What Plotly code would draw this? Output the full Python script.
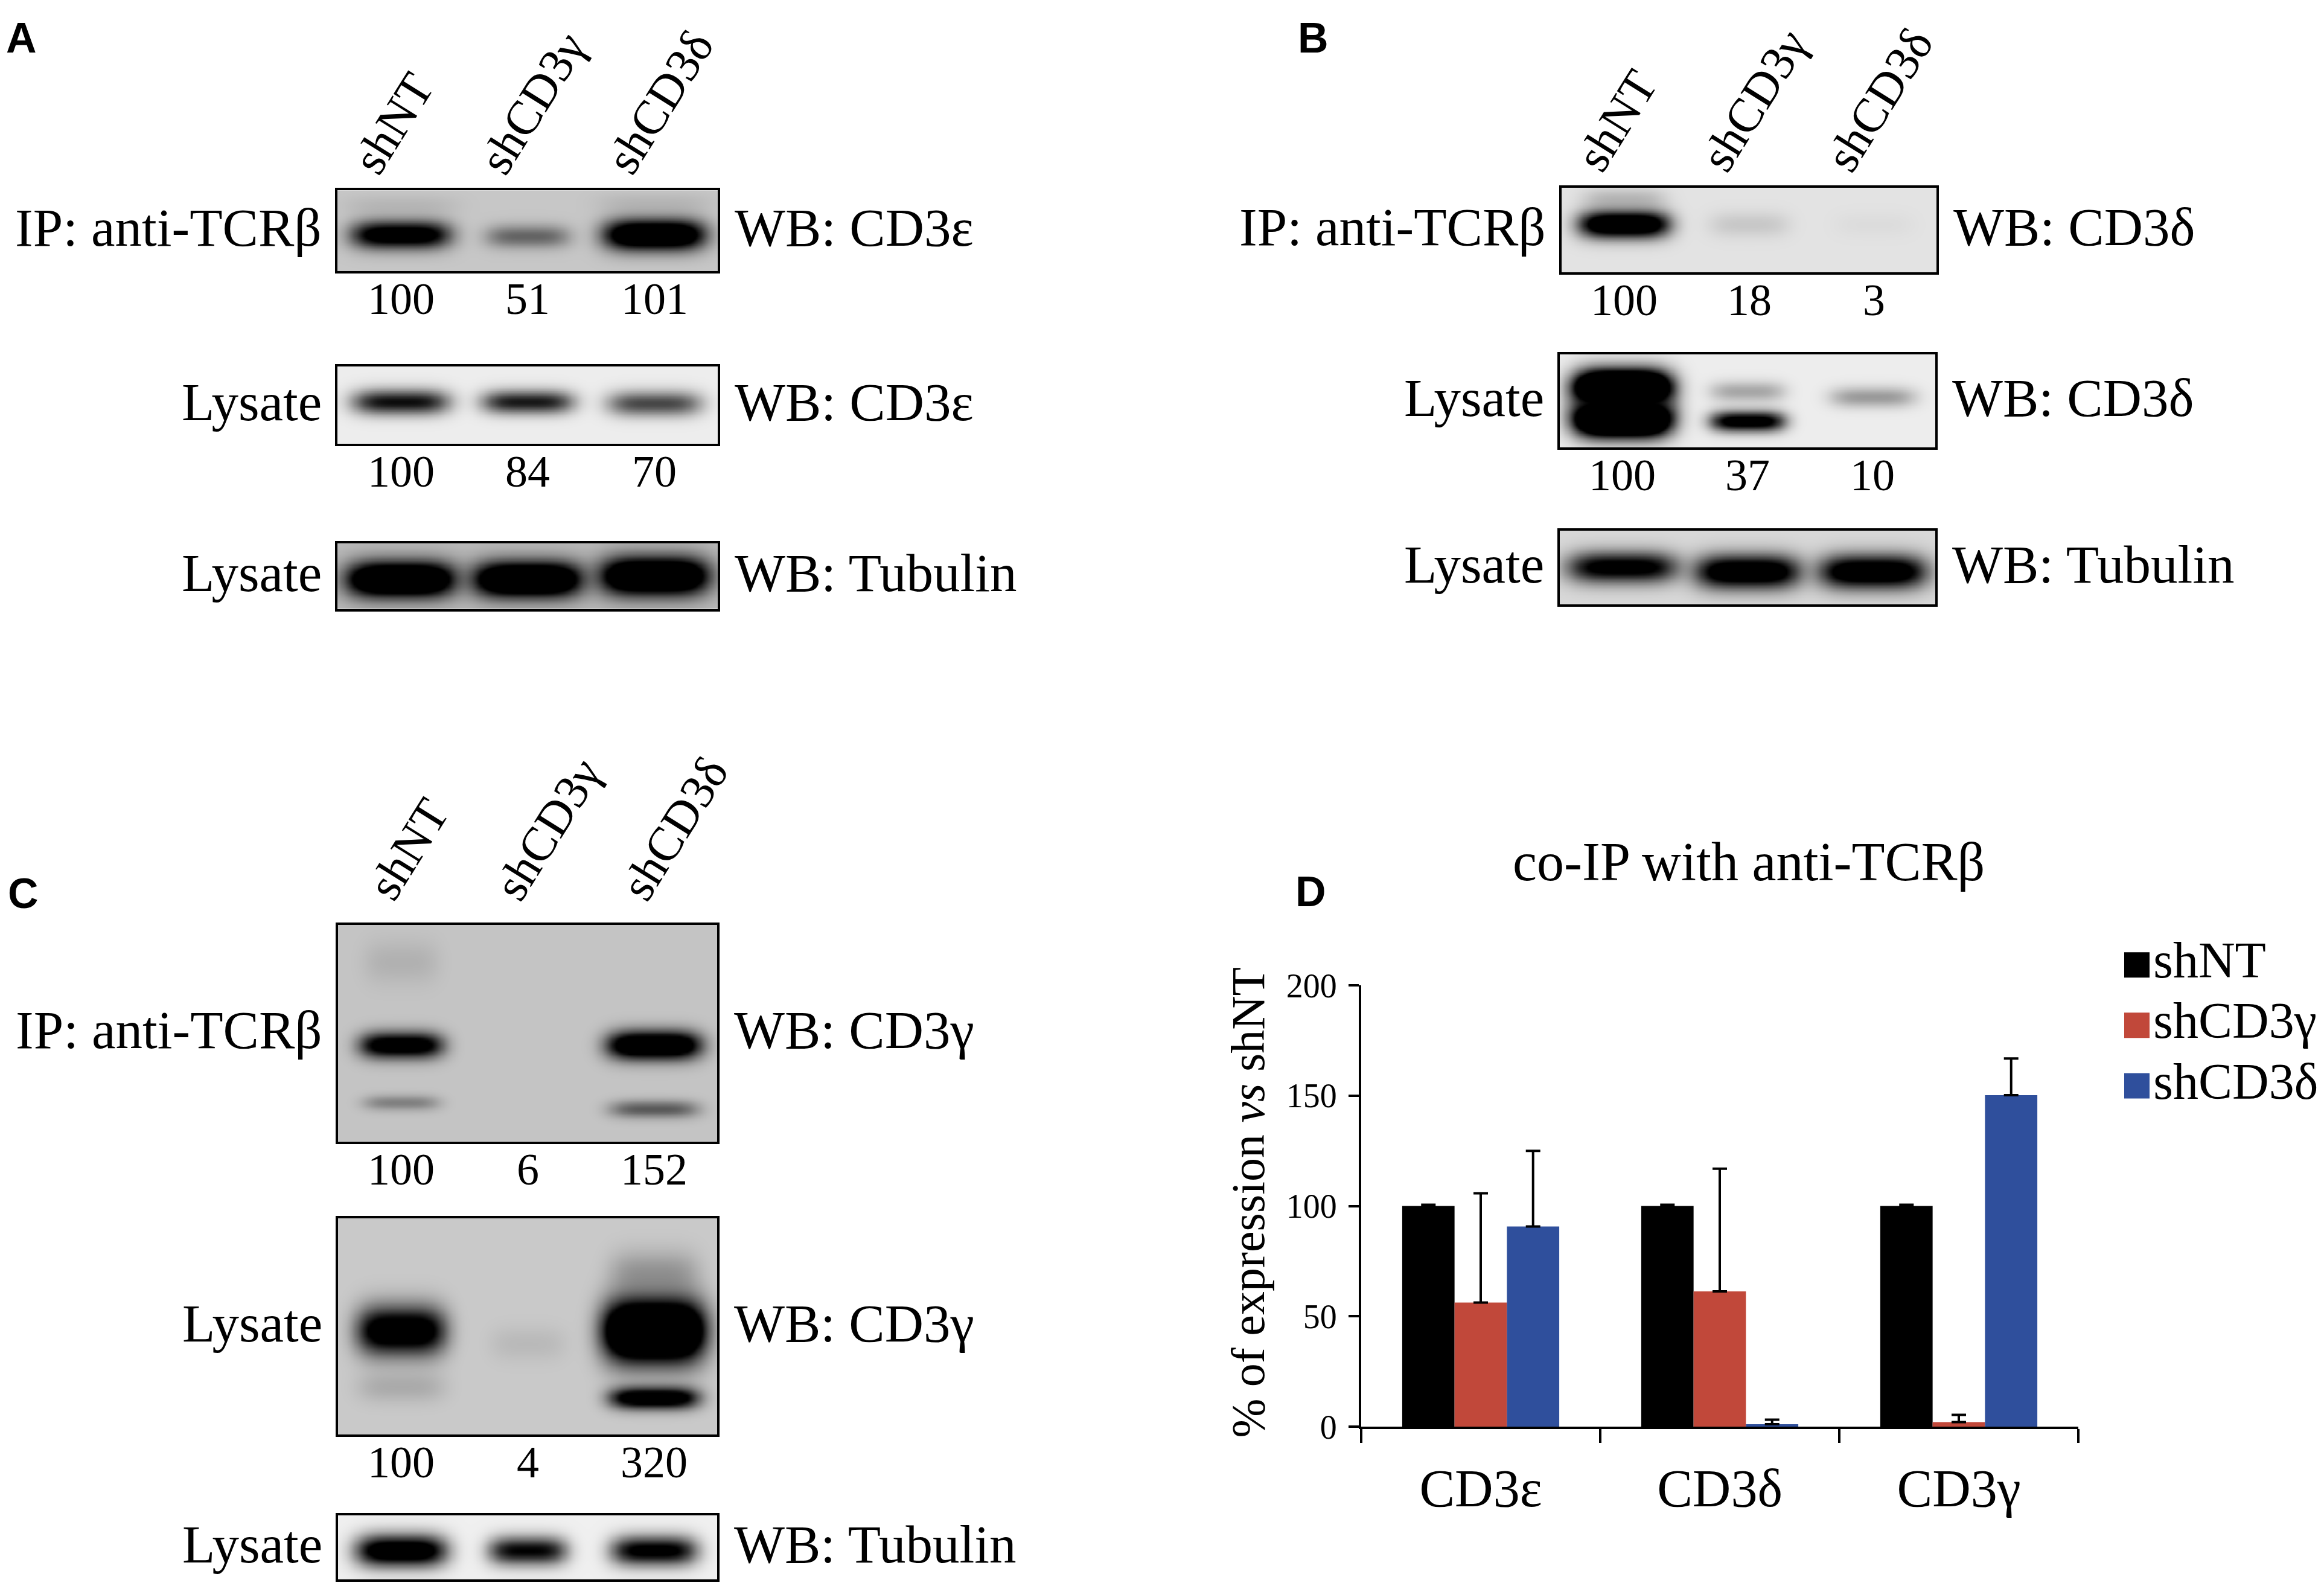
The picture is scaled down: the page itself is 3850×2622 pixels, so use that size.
import numpy as np
import plotly.graph_objects as go

W = 3850
FIG_H = 2650          # figure height
# the photographed page shows the figure slightly shifted and squeezed vertically;
# positions below are given in reference-picture pixels and mapped through these
SCALE_Y = 0.9775
OFF_Y = 34.6
OFF_X = 6
SERIF = "Liberation Serif, Times New Roman, serif"
SANS = "Liberation Sans Narrow, Liberation Sans, Arial, sans-serif"

# ---------------- data ----------------
lanes = ["shNT", "shCD3γ", "shCD3δ"]

# Panel D: co-IP quantification (% of shNT)
targets = ["CD3ε", "CD3δ", "CD3γ"]
shNT_vals = [100, 100, 100]
shNT_err = [0.6, 0.6, 0.6]
shCD3g_vals = [56.3, 61.3, 2.1]
shCD3g_err = [49.5, 55.6, 3.3]
shCD3d_vals = [90.7, 1.2, 150.2]
shCD3d_err = [34.3, 2.0, 16.6]

# densitometry numbers printed under blots
A_ip_quant = [100, 51, 101]
A_lys_quant = [100, 84, 70]
B_ip_quant = [100, 18, 3]
B_lys_quant = [100, 37, 10]
C_ip_quant = [100, 6, 152]
C_lys_quant = [100, 4, 320]

# blot band densities: (lane, relative migration, density, lane spread, band spread)
A_ip_bands = [(0, 0.55, 1.3, 0.39, 0.17), (1, 0.57, 0.5, 0.33, 0.14), (2, 0.55, 1.6, 0.40, 0.19),
              (0, 0.18, 0.08, 0.45, 0.12), (2, 0.15, 0.08, 0.45, 0.12)]
A_lys_bands = [(0, 0.46, 0.95, 0.38, 0.16), (1, 0.46, 0.9, 0.36, 0.15), (2, 0.48, 0.7, 0.37, 0.16)]
A_tub_bands = [(0, 0.55, 1.8, 0.43, 0.27), (1, 0.55, 1.8, 0.43, 0.27), (2, 0.50, 1.8, 0.43, 0.29)]
B_ip_bands = [(0, 0.43, 1.5, 0.36, 0.16), (0, 0.12, 0.18, 0.33, 0.12), (1, 0.43, 0.12, 0.32, 0.15),
              (2, 0.43, 0.03, 0.32, 0.15)]
B_lys_bands = [(0, 0.36, 2.4, 0.39, 0.19), (0, 0.69, 2.4, 0.39, 0.19), (1, 0.72, 1.2, 0.30, 0.11),
               (1, 0.40, 0.3, 0.30, 0.11), (2, 0.46, 0.35, 0.34, 0.11)]
B_tub_bands = [(0, 0.50, 1.15, 0.44, 0.21), (1, 0.56, 1.35, 0.42, 0.23), (2, 0.56, 1.35, 0.43, 0.23)]
C_ip_bands = [(0, 0.555, 1.3, 0.33, 0.06), (0, 0.82, 0.35, 0.30, 0.035), (2, 0.555, 1.6, 0.37, 0.065),
              (2, 0.85, 0.55, 0.35, 0.04), (0, 0.17, 0.1, 0.3, 0.1)]
C_lys_bands = [(0, 0.52, 1.35, 0.35, 0.11), (0, 0.78, 0.15, 0.35, 0.07), (1, 0.58, 0.08, 0.3, 0.08),
               (2, 0.52, 2.2, 0.40, 0.14), (2, 0.83, 1.4, 0.35, 0.05), (2, 0.25, 0.25, 0.35, 0.1)]
C_tub_bands = [(0, 0.55, 1.3, 0.36, 0.25), (1, 0.55, 1.0, 0.31, 0.22), (2, 0.55, 1.1, 0.34, 0.23)]

# ---------------- layout helpers ----------------
def px(xp):
    return min(1.0, max(0.0, (xp - OFF_X) / W))

def py(yp):
    return min(1.0, max(0.0, 1 - ((yp - OFF_Y) / SCALE_Y) / FIG_H))

def blot_image(bg, bands, nx=200, ny=100):
    xs = np.linspace(-0.5, 2.5, nx)
    ys = np.linspace(0, 1, ny)
    X, Y = np.meshgrid(xs, ys)
    keep = np.full(X.shape, 1.0 - bg)
    for lane, yc, d, hw, hh in bands:
        prof = d * np.exp(-np.abs((X - lane) / hw) ** 4) * np.exp(-((Y - yc) / hh) ** 2)
        keep *= (1 - np.clip(prof, 0, 1))
    return xs, ys, 1 - keep

# blot specs: box in pixels (x0, x1, y0, y1), background, bands, left, right, quant,
# lane-label offset (None = no lane labels)
blots = [
    ((557, 1187, 312, 446), 0.22, A_ip_bands, "IP: anti-TCRβ", "WB: CD3ε", A_ip_quant, (0, 0)),
    ((557, 1187, 604, 732), 0.07, A_lys_bands, "Lysate", "WB: CD3ε", A_lys_quant, None),
    ((557, 1187, 897, 1006), 0.27, A_tub_bands, "Lysate", "WB: Tubulin", None, None),
    ((2585, 3206, 308, 448), 0.11, B_ip_bands, "IP: anti-TCRβ", "WB: CD3δ", B_ip_quant, (0, 0)),
    ((2582, 3204, 584, 738), 0.07, B_lys_bands, "Lysate", "WB: CD3δ", B_lys_quant, None),
    ((2582, 3204, 876, 998), 0.15, B_tub_bands, "Lysate", "WB: Tubulin", None, None),
    ((558, 1186, 1530, 1889), 0.23, C_ip_bands, "IP: anti-TCRβ", "WB: CD3γ", C_ip_quant, (25, 14)),
    ((558, 1186, 2016, 2375), 0.21, C_lys_bands, "Lysate", "WB: CD3γ", C_lys_quant, None),
    ((558, 1186, 2509, 2615), 0.06, C_tub_bands, "Lysate", "WB: Tubulin", None, None),
]

fig = go.Figure()
annotations = []
layout_axes = {}
LBL = 89
NUM = 74

for i, (box, bg, bands, left, right, quant, lane_off) in enumerate(blots, start=1):
    x0, x1, y0, y1 = box
    xs, ys, z = blot_image(bg, bands)
    xa = "x" if i == 1 else f"x{i}"
    ya = "y" if i == 1 else f"y{i}"
    fig.add_trace(go.Heatmap(x=xs, y=ys, z=z, zmin=0, zmax=1, zsmooth="best",
                             colorscale=[[0, "rgb(255,255,255)"], [1, "rgb(0,0,0)"]],
                             showscale=False, hoverinfo="skip", xaxis=xa, yaxis=ya))
    kx = "xaxis" if i == 1 else f"xaxis{i}"
    ky = "yaxis" if i == 1 else f"yaxis{i}"
    layout_axes[kx] = dict(domain=[px(x0), px(x1)], range=[-0.5, 2.5], anchor=ya,
                           showticklabels=False, ticks="", showgrid=False, zeroline=False,
                           showline=True, mirror=True, linecolor="black", linewidth=4)
    layout_axes[ky] = dict(domain=[py(y1), py(y0)], range=[1, 0], anchor=xa,
                           showticklabels=False, ticks="", showgrid=False, zeroline=False,
                           showline=True, mirror=True, linecolor="black", linewidth=4)
    annotations.append(dict(xref=f"{xa} domain", yref=f"{ya} domain", x=0, y=0.5,
                            xanchor="right", yanchor="middle", xshift=-24, yshift=5, text=left,
                            showarrow=False, font=dict(family=SERIF, size=LBL, color="black")))
    annotations.append(dict(xref=f"{xa} domain", yref=f"{ya} domain", x=1, y=0.5,
                            xanchor="left", yanchor="middle", xshift=26, yshift=5, text=right,
                            showarrow=False, font=dict(family=SERIF, size=LBL, color="black")))
    if quant is not None:
        for j, q in enumerate(quant):
            annotations.append(dict(xref=xa, yref=f"{ya} domain", x=j, y=0,
                                    xanchor="center", yanchor="middle", yshift=-46,
                                    text=str(q), showarrow=False,
                                    font=dict(family=SERIF, size=NUM, color="black")))
    if lane_off is not None:
        for j, name in enumerate(lanes):
            annotations.append(dict(xref=xa, yref=f"{ya} domain", x=j, y=1,
                                    xanchor="left", yanchor="bottom",
                                    xshift=-100 + lane_off[0], yshift=10 + lane_off[1],
                                    textangle=-58, text=name, showarrow=False,
                                    font=dict(family=SERIF, size=80, color="black")))

# ---------------- Panel D bar chart ----------------
RED = "#c1483a"
BLUE = "#2f4f9c"
series = [("shNT", shNT_vals, shNT_err, "#000000"),
          ("shCD3γ", shCD3g_vals, shCD3g_err, RED),
          ("shCD3δ", shCD3d_vals, shCD3d_err, BLUE)]
for name, vals, err, col in series:
    fig.add_trace(go.Bar(x=list(range(len(targets))), y=vals, name=name,
                         marker=dict(color=col, line=dict(width=0)),
                         error_y=dict(type="data", array=err, arrayminus=[0] * len(err),
                                      symmetric=False, color="black", thickness=4, width=12),
                         xaxis="x10", yaxis="y10", showlegend=False, hoverinfo="skip"))

layout_axes["xaxis10"] = dict(domain=[px(2253), px(3441)], range=[-0.5, 2.5], anchor="y10",
                              tickmode="array", tickvals=list(range(len(targets))), ticktext=targets,
                              ticks="outside", ticklen=22, tickcolor="rgba(0,0,0,0)", tickwidth=1,
                              minor=dict(tickmode="array", tickvals=[-0.5, 0.5, 1.5, 2.5],
                                         ticks="outside", ticklen=23, tickwidth=4, tickcolor="black",
                                         showgrid=False),
                              showline=True, linecolor="black", linewidth=4,
                              showgrid=False, zeroline=False,
                              tickfont=dict(family=SERIF, size=88, color="black"))
layout_axes["yaxis10"] = dict(domain=[py(2362), py(1630)], range=[0, 200], anchor="x10",
                              tickmode="array", tickvals=[0, 50, 100, 150, 200],
                              ticks="outside", ticklen=17, tickwidth=4, tickcolor="black",
                              showline=True, linecolor="black", linewidth=4,
                              showgrid=False, zeroline=False, ticklabelstandoff=8,
                              tickfont=dict(family=SERIF, size=56, color="black"))

# custom legend
fig.add_trace(go.Scatter(x=[0, 0, 0], y=[0, 1, 2], mode="markers+text",
                         marker=dict(symbol="square", size=42, color=[s[3] for s in series]),
                         text=[s[0] for s in series], textposition="middle right",
                         textfont=dict(family=SERIF, size=84, color="black"),
                         xaxis="x11", yaxis="y11", cliponaxis=False, showlegend=False,
                         hoverinfo="skip"))
layout_axes["xaxis11"] = dict(domain=[px(3538), 1.0], range=[0, 1], visible=False, anchor="y11")
layout_axes["yaxis11"] = dict(domain=[py(1847), py(1546)], range=[2.5, -0.5], visible=False,
                              anchor="x11")

annotations.append(dict(xref="paper", yref="paper", x=px(2895), y=py(1425),
                        xanchor="center", yanchor="middle", text="co-IP with anti-TCRβ",
                        showarrow=False, font=dict(family=SERIF, size=90, color="black")))
annotations.append(dict(xref="paper", yref="paper", x=px(2066), y=py(1990),
                        xanchor="center", yanchor="middle", textangle=-90,
                        text="% of expression <i>vs</i> shNT",
                        showarrow=False, font=dict(family=SERIF, size=78, color="black")))

# panel letters (positions of the letters' top edge)
for letter, (lx, ly) in {"A": (4, 0), "B": (2146, 0), "C": (9, 1437), "D": (2142, 1434)}.items():
    annotations.append(dict(xref="paper", yref="paper", x=px(lx), y=py(ly),
                            xanchor="left", yanchor="top", yshift=16 if ly == 0 else 0,
                            text=f"<b>{letter}</b>",
                            showarrow=False, font=dict(family=SANS, size=70, color="black")))

fig.update_layout(width=W, height=FIG_H, margin=dict(l=0, r=0, t=0, b=0),
                  paper_bgcolor="white", plot_bgcolor="rgba(0,0,0,0)",
                  barmode="group", bargap=0.343, bargroupgap=0,
                  annotations=annotations, showlegend=False, **layout_axes)

fig.write_html("out.html")
